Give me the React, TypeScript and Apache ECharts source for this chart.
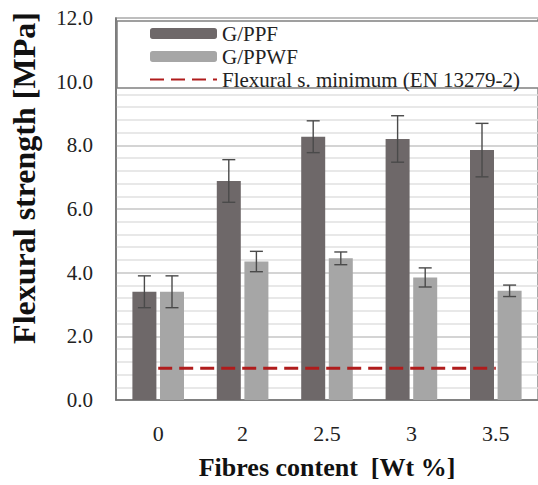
import React, { useEffect, useRef } from "react";
import * as echarts from "echarts";

const categories = ["0", "2", "2.5", "3", "3.5"];
const gppf = [3.4, 6.88, 8.27, 8.2, 7.85];
const gppfErr = [0.5, 0.67, 0.5, 0.73, 0.84];
const gppwf = [3.4, 4.35, 4.45, 3.85, 3.43];
const gppwfErr = [0.5, 0.32, 0.2, 0.3, 0.18];
const minimum = [1.0, 1.0, 1.0, 1.0, 1.0];
const seriesNames = ["G/PPF", "G/PPWF", "Flexural s. minimum (EN 13279-2)"];

const FONT = "Liberation Serif, Times New Roman, serif";

export default function App() {
  const ref = useRef<HTMLDivElement>(null);
  useEffect(() => {
    if (!ref.current) return;
    const chart = echarts.init(ref.current, undefined, { renderer: "svg" });
    const errData = (vals: number[], errs: number[]) =>
      vals.map((v, i) => [i, v - errs[i], v + errs[i]]);
    const makeErr = (offset: number) => (params: any, api: any) => {
      const lo = api.coord([api.value(0), api.value(1)]);
      const hi = api.coord([api.value(0), api.value(2)]);
      const x = lo[0] + offset;
      const cap = 6.5;
      const style = { stroke: "#4a4a4a", lineWidth: 1.4 };
      return {
        type: "group",
        children: [
          { type: "line", shape: { x1: x, y1: lo[1], x2: x, y2: hi[1] }, style },
          { type: "line", shape: { x1: x - cap, y1: hi[1], x2: x + cap, y2: hi[1] }, style },
          { type: "line", shape: { x1: x - cap, y1: lo[1], x2: x + cap, y2: lo[1] }, style },
        ],
      };
    };
    chart.setOption({
      animation: false,
      textStyle: { fontFamily: FONT },
      grid: {
        left: 116,
        top: 18,
        width: 432,
        height: 384,
        show: true,
        borderColor: "#8a8a8a",
        borderWidth: 1.5,
        backgroundColor: "transparent",
      },
      legend: {
        data: [
          { name: seriesNames[0] },
          { name: seriesNames[1] },
          { name: seriesNames[2], itemStyle: { opacity: 0 } },
        ],
        orient: "vertical",
        left: 149,
        top: 23,
        padding: 0,
        itemGap: 2,
        itemWidth: 67,
        itemHeight: 11,
        z: 10,
        textStyle: { fontFamily: FONT, fontSize: 21, color: "#222", lineHeight: 21 },
      },
      graphic: [
        {
          type: "rect",
          z: 5,
          shape: { x: 117, y: 21, width: 440, height: 67 },
          style: { fill: "#ffffff", stroke: "#808080", lineWidth: 1.5 },
        },
        {
          type: "text",
          x: 24,
          y: 178,
          rotation: Math.PI / 2,
          style: {
            text: "Flexural strength [MPa]",
            fontFamily: FONT,
            fontSize: 32,
            fontWeight: "bold",
            fill: "#111",
            align: "center",
            verticalAlign: "middle",
          },
        },
      ],
      xAxis: {
        type: "category",
        data: categories,
        name: "Fibres content  [Wt %]",
        nameLocation: "middle",
        nameGap: 54,
        nameTextStyle: { fontFamily: FONT, fontSize: 26, fontWeight: "bold", color: "#111" },
        axisLine: { show: true, lineStyle: { color: "#6e6e6e", width: 1.5 } },
        axisTick: { show: false },
        axisLabel: { fontFamily: FONT, fontSize: 22, color: "#222", margin: 22 },
      },
      yAxis: {
        type: "value",
        min: 0,
        max: 12,
        interval: 2,
        axisLine: { show: true, lineStyle: { color: "#6e6e6e", width: 1.5 } },
        axisTick: { show: false },
        axisLabel: {
          fontFamily: FONT,
          fontSize: 21,
          color: "#222",
          margin: 23,
          formatter: (v: number) => v.toFixed(1),
        },
        splitLine: { show: true, lineStyle: { color: "#c6c6c6", width: 1.5 } },
        minorTick: { show: false, splitNumber: 5 },
        minorSplitLine: { show: true, lineStyle: { color: "#e0e0e0", width: 1.5 } },
      },
      series: [
        {
          name: seriesNames[0],
          type: "bar",
          data: gppf,
          barWidth: 24,
          barGap: "15%",
          itemStyle: { color: "#6e6869" },
          z: 2,
        },
        {
          name: seriesNames[1],
          type: "bar",
          data: gppwf,
          barWidth: 24,
          barGap: "15%",
          itemStyle: { color: "#a6a6a6" },
          z: 2,
        },
        {
          name: seriesNames[2],
          type: "line",
          data: minimum,
          symbol: "none",
          lineStyle: { color: "#b01c1c", width: 3, type: [14, 7] },
          itemStyle: { color: "#b01c1c" },
          z: 4,
        },
        {
          type: "custom",
          name: "errA",
          data: errData(gppf, gppfErr),
          encode: { x: 0, y: [1, 2] },
          renderItem: makeErr(-13.8),
          z: 3,
        },
        {
          type: "custom",
          name: "errB",
          data: errData(gppwf, gppwfErr),
          encode: { x: 0, y: [1, 2] },
          renderItem: makeErr(13.8),
          z: 3,
        },
      ],
    });
    return () => chart.dispose();
  }, []);
  return (
    <div
      ref={ref}
      style={{ position: "fixed", left: 0, top: 0, width: 538, height: 485, background: "#fff" }}
    />
  );
}
